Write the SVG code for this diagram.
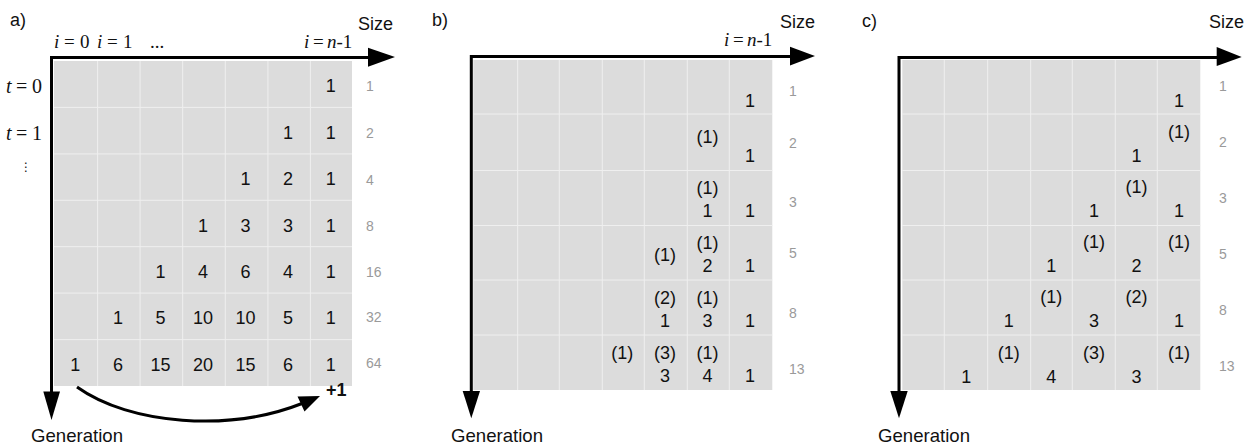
<svg xmlns="http://www.w3.org/2000/svg" width="1253" height="445" viewBox="0 0 1253 445">
<style>
text{font-family:"Liberation Sans",Arial,sans-serif;fill:#111}
.n{font-size:18px;text-anchor:middle}
.s{font-size:14px;fill:#9a9a9a}
.lbl{font-size:18px}
.gen{font-size:18.6px}
.m{font-family:"Liberation Serif","Times New Roman",serif;font-size:19px}
.mi{font-style:italic}
.grid{fill:#dcdcdc}
.gl{stroke:#efefef;stroke-width:1}
.ax{stroke:#000;stroke-width:3;fill:none}
.ah{fill:#000}
</style>
<rect width="1253" height="445" fill="#fff"/>

<!-- Panel a -->
<g id="panel-a">
  <rect class="grid" x="54" y="61" width="298" height="325"/>
  <g class="gl">
    <path d="M97.6 61V386M140.1 61V386M182.7 61V386M225.3 61V386M267.9 61V386M310.4 61V386"/>
    <path d="M54 107.4H352M54 153.9H352M54 200.3H352M54 246.7H352M54 293.1H352M54 339.6H352"/>
  </g>
  <text class="lbl" x="10" y="26">a)</text>
  <text class="lbl" x="358" y="30">Size</text>
  <text class="m" y="48"><tspan class="mi" x="54">i</tspan><tspan x="64">=</tspan><tspan x="80">0</tspan></text>
  <text class="m" y="48"><tspan class="mi" x="97">i</tspan><tspan x="107">=</tspan><tspan x="123">1</tspan></text>
  <text class="m" x="150" y="48">...</text>
  <text class="m" y="48"><tspan class="mi" x="304">i</tspan><tspan x="313">=</tspan><tspan class="mi" x="327">n</tspan><tspan>-1</tspan></text>
  <text class="m" style="font-size:20px" y="93"><tspan class="mi" x="6">t</tspan><tspan x="16">=</tspan><tspan x="32">0</tspan></text>
  <text class="m" style="font-size:20px" y="140"><tspan class="mi" x="6">t</tspan><tspan x="16">=</tspan><tspan x="32">1</tspan></text>
  <text x="20" y="171" style="font-family:'DejaVu Sans',sans-serif;font-size:12px">⋮</text>
  <g id="a-values">
    <text class="n" x="330.7" y="92.3">1</text>
    <text class="n" x="288.1" y="139">1</text><text class="n" x="330.7" y="139">1</text>
    <text class="n" x="245.6" y="185">1</text><text class="n" x="288.1" y="185">2</text><text class="n" x="330.7" y="185">1</text>
    <text class="n" x="203" y="231.7">1</text><text class="n" x="245.6" y="231.7">3</text><text class="n" x="288.1" y="231.7">3</text><text class="n" x="330.7" y="231.7">1</text>
    <text class="n" x="160.4" y="277.7">1</text><text class="n" x="203" y="277.7">4</text><text class="n" x="245.6" y="277.7">6</text><text class="n" x="288.1" y="277.7">4</text><text class="n" x="330.7" y="277.7">1</text>
    <text class="n" x="117.9" y="324">1</text><text class="n" x="160.4" y="324">5</text><text class="n" x="203" y="324">10</text><text class="n" x="245.6" y="324">10</text><text class="n" x="288.1" y="324">5</text><text class="n" x="330.7" y="324">1</text>
    <text class="n" x="75.3" y="370.7">1</text><text class="n" x="117.9" y="370.7">6</text><text class="n" x="160.4" y="370.7">15</text><text class="n" x="203" y="370.7">20</text><text class="n" x="245.6" y="370.7">15</text><text class="n" x="288.1" y="370.7">6</text><text class="n" x="330.7" y="370.7">1</text>
  </g>
  <g id="a-sizes">
    <text class="s" x="366" y="90.7">1</text>
    <text class="s" x="366" y="138.3">2</text>
    <text class="s" x="366" y="185">4</text>
    <text class="s" x="366" y="231">8</text>
    <text class="s" x="366" y="276.7">16</text>
    <text class="s" x="366" y="322.3">32</text>
    <text class="s" x="366" y="368.3">64</text>
  </g>
  <text x="326" y="396" style="font-size:18px;font-weight:bold">+1</text>
  <text class="gen" x="31" y="442">Generation</text>
</g>

<!-- Panel b -->
<g id="panel-b">
  <rect class="grid" x="473.3" y="60" width="299" height="330"/>
  <g class="gl">
    <path d="M517.7 60V390M559.3 60V390M602.3 60V390M644.3 60V390M687.3 60V390M729.3 60V390"/>
    <path d="M473.3 114H772.3M473.3 170.5H772.3M473.3 225.5H772.3M473.3 280H772.3M473.3 335H772.3"/>
  </g>
  <text class="lbl" x="432" y="26">b)</text>
  <text class="lbl" x="780" y="28">Size</text>
  <text class="m" y="46"><tspan class="mi" x="724">i</tspan><tspan x="733">=</tspan><tspan class="mi" x="747">n</tspan><tspan>-1</tspan></text>
  <g id="b-values">
    <text class="n" x="750" y="106.5">1</text>
    <text class="n" x="707.4" y="142.5">(1)</text><text class="n" x="750" y="161.5">1</text>
    <text class="n" x="707.4" y="193.5">(1)</text><text class="n" x="707.4" y="216.5">1</text><text class="n" x="750" y="216.5">1</text>
    <text class="n" x="664.9" y="261">(1)</text><text class="n" x="707.4" y="248.5">(1)</text><text class="n" x="707.4" y="271.5">2</text><text class="n" x="750" y="271.5">1</text>
    <text class="n" x="664.9" y="304">(2)</text><text class="n" x="707.4" y="304">(1)</text><text class="n" x="664.9" y="327">1</text><text class="n" x="707.4" y="327">3</text><text class="n" x="750" y="327">1</text>
    <text class="n" x="622.3" y="359.3">(1)</text><text class="n" x="664.9" y="359.3">(3)</text><text class="n" x="707.4" y="359.3">(1)</text><text class="n" x="664.9" y="381.5">3</text><text class="n" x="707.4" y="381.5">4</text><text class="n" x="750" y="381.5">1</text>
  </g>
  <g id="b-sizes">
    <text class="s" x="789" y="95.7">1</text>
    <text class="s" x="789" y="148">2</text>
    <text class="s" x="789" y="206.7">3</text>
    <text class="s" x="789" y="258.3">5</text>
    <text class="s" x="789" y="318">8</text>
    <text class="s" x="789" y="374">13</text>
  </g>
  <text class="gen" x="451" y="442">Generation</text>
</g>

<!-- Panel c -->
<g id="panel-c">
  <rect class="grid" x="902.3" y="60" width="298" height="330"/>
  <g class="gl">
    <path d="M944.3 60V390M987.7 60V390M1030.7 60V390M1072.3 60V390M1115.3 60V390M1157.3 60V390"/>
    <path d="M902.3 114H1200.3M902.3 170.5H1200.3M902.3 225.5H1200.3M902.3 280H1200.3M902.3 335H1200.3"/>
  </g>
  <text class="lbl" x="862" y="27">c)</text>
  <text class="lbl" x="1209" y="28">Size</text>
  <g id="c-values">
    <text class="n" x="1179" y="106.5">1</text>
    <text class="n" x="1179" y="137.5">(1)</text><text class="n" x="1136.4" y="161.5">1</text>
    <text class="n" x="1136.4" y="193">(1)</text><text class="n" x="1093.9" y="216.5">1</text><text class="n" x="1179" y="216.5">1</text>
    <text class="n" x="1093.9" y="247.5">(1)</text><text class="n" x="1179" y="247.5">(1)</text><text class="n" x="1051.3" y="271.5">1</text><text class="n" x="1136.4" y="271.5">2</text>
    <text class="n" x="1051.3" y="303">(1)</text><text class="n" x="1136.4" y="303">(2)</text><text class="n" x="1008.7" y="327">1</text><text class="n" x="1093.9" y="327">3</text><text class="n" x="1179" y="327">1</text>
    <text class="n" x="1008.7" y="358.5">(1)</text><text class="n" x="1093.9" y="358.5">(3)</text><text class="n" x="1179" y="358.5">(1)</text><text class="n" x="966.2" y="382.5">1</text><text class="n" x="1051.3" y="382.5">4</text><text class="n" x="1136.4" y="382.5">3</text>
  </g>
  <g id="c-sizes">
    <text class="s" x="1219" y="91">1</text>
    <text class="s" x="1219" y="146.7">2</text>
    <text class="s" x="1219" y="202.7">3</text>
    <text class="s" x="1219" y="259">5</text>
    <text class="s" x="1219" y="315">8</text>
    <text class="s" x="1219" y="371">13</text>
  </g>
  <text class="gen" x="878" y="442">Generation</text>
</g>

<!-- Connectors: axes and arrows -->
<g id="connectors">
  <path class="ax" d="M51.5 392V57.5H369"/>
  <polygon class="ah" points="368,47.7 395,57 368,66.7"/>
  <polygon class="ah" points="43.3,391.5 60,391.5 51.5,420"/>
  <path class="ax" d="M77 387C130 425 230 432 302 403.5"/>
  <polygon class="ah" points="320,396 304.5,411.5 297.5,396.5"/>

  <path class="ax" d="M471.3 392V56.5H791"/>
  <polygon class="ah" points="790,46.7 815,56 790,65.5"/>
  <polygon class="ah" points="462.7,391 480,391 471.3,418.3"/>

  <path class="ax" d="M899 392V57.5H1218"/>
  <polygon class="ah" points="1216.7,47 1241.7,57 1216.7,66"/>
  <polygon class="ah" points="890.3,391 907.7,391 899,418.3"/>
</g>
</svg>
